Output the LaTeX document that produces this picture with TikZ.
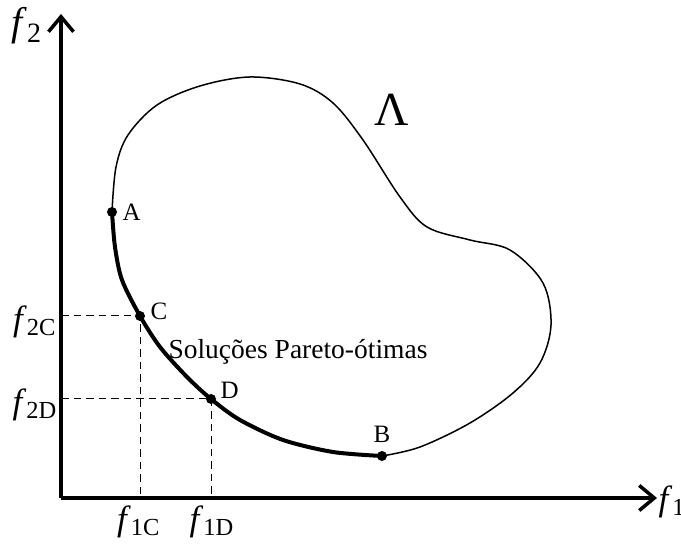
\documentclass[tikz,border=0pt]{standalone}
\usepackage{fontspec}
\setmainfont{Liberation Serif}
\usetikzlibrary{arrows.meta,positioning}

\begin{document}
\begin{tikzpicture}[x=0.4pt, y=-0.4pt, >={Straight Barb[length=6pt,width=10pt]},
    lbl/.style={font=\fontsize{10}{12}\selectfont, inner sep=1pt},
    proj/.style={dash pattern=on 3pt off 2pt, line width=0.4pt}]
  \useasboundingbox (0,0) rectangle (681,550);
  % axes
  \coordinate (O) at (61,498);
  \coordinate (X) at (657,498);
  \coordinate (Y) at (61,14);
  \draw[->, line width=1.4pt] (O) -- (X);
  \draw[->, line width=1.4pt] (O) -- (Y);
  \node[font=\fontsize{16}{18}\selectfont] (f2) at (27,26) {\textit{f}\textsubscript{2}};
  \node[font=\fontsize{14}{16}\selectfont, anchor=west, inner sep=0pt] (f1) at (658,502) {\textit{f}\textsubscript{1}};
  % points on the front
  \coordinate (A) at (112,212);
  \coordinate (C) at (140,316);
  \coordinate (D) at (211,399);
  \coordinate (B) at (382,456);
  % feasible region
  \draw[line width=0.6pt] plot[smooth, tension=0.55] coordinates {(B) (420,447) (470,423) (513,393)
    (540,363) (551,325) (543,283) (510,250) (470,240) (427,227) (400,197) (363,140) (333,103)
    (300,84) (250,77) (200,86) (157,105) (128,135) (116,167) (A)};
  \draw[line width=1.6pt] plot[smooth, tension=0.5] coordinates {(A) (115,247) (122,280) (C) (160,347)
    (187,377) (D) (240,420) (283,440) (333,452) (B)};
  \foreach \p in {A,B,C,D}
    \fill (\p) circle (2pt);
  % projections
  \draw[proj] (C -| O) -- (C) -- (C |- O);
  \draw[proj] (D -| O) -- (D) -- (D |- O);
  \node[font=\fontsize{14}{16}\selectfont] (f2C) at (35,322) {\textit{f}\textsubscript{2C}};
  \node[font=\fontsize{14}{16}\selectfont] (f2D) at (35,405) {\textit{f}\textsubscript{2D}};
  \node[font=\fontsize{14}{16}\selectfont] (f1C) at (139,522) {\textit{f}\textsubscript{1C}};
  \node[font=\fontsize{14}{16}\selectfont] (f1D) at (212,522) {\textit{f}\textsubscript{1D}};
  % labels
  \node[lbl, right=3pt of A] (lA) {A};
  \node[lbl, right=3pt of C, yshift=2pt] (lC) {C};
  \node[lbl, right=2.6pt of D, yshift=3.6pt] (lD) {D};
  \node[lbl, above=4pt of B] (lB) {B};
  \node[font=\fontsize{11}{13}\selectfont] (pareto) at (298,352) {Soluções Pareto-ótimas};
  \node[font=\fontsize{19}{21}\selectfont] (lambda) at (392,110) {Λ};
\end{tikzpicture}
\end{document}
